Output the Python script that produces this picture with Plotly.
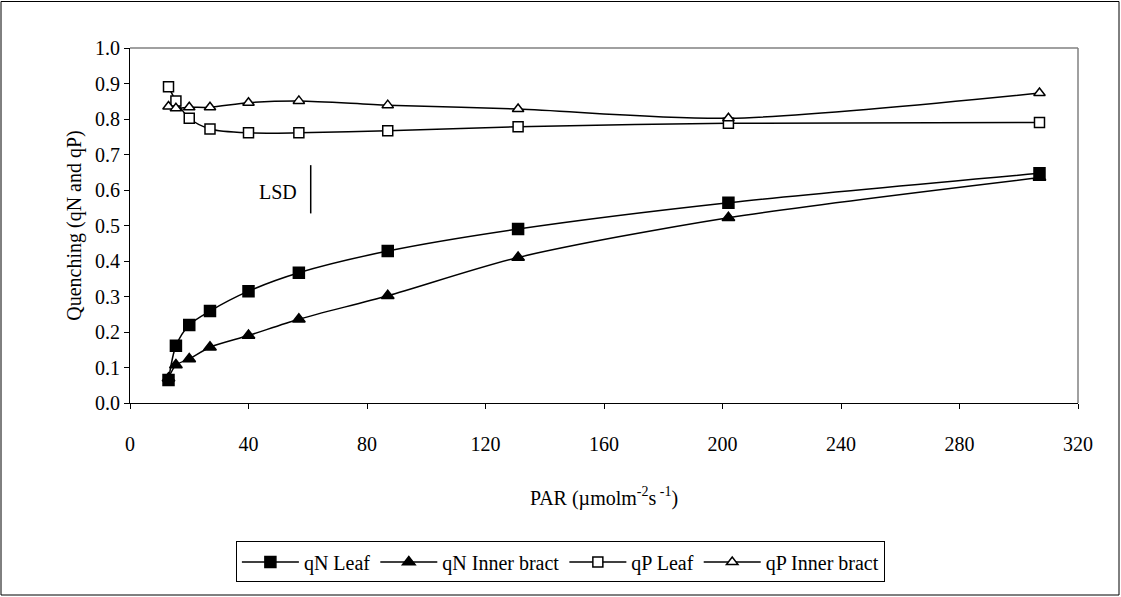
import plotly.graph_objects as go

par = [13, 15.5, 20, 27, 40, 57, 87, 131, 202, 307]
qn_leaf = [0.065, 0.161, 0.220, 0.259, 0.315, 0.367, 0.428, 0.490, 0.564, 0.647]
qn_bract = [0.070, 0.107, 0.124, 0.157, 0.190, 0.236, 0.302, 0.410, 0.522, 0.635]
qp_leaf = [0.891, 0.851, 0.802, 0.772, 0.761, 0.761, 0.767, 0.778, 0.788, 0.790]
qp_bract = [0.835, 0.830, 0.833, 0.833, 0.846, 0.851, 0.839, 0.828, 0.802, 0.873]

x_ticks = [0, 40, 80, 120, 160, 200, 240, 280, 320]
y_ticks = [0.0, 0.1, 0.2, 0.3, 0.4, 0.5, 0.6, 0.7, 0.8, 0.9, 1.0]

lsd_x = 61
lsd_y0 = 0.534
lsd_y1 = 0.670
lsd_label_y = 0.595

FONT = "Liberation Serif"
FS = 20

series = [
    ("qN Leaf", qn_leaf, "square", "black", 11),
    ("qN Inner bract", qn_bract, "triangle-up", "black", 11),
    ("qP Leaf", qp_leaf, "square", "white", 10),
    ("qP Inner bract", qp_bract, "triangle-up", "white", 10),
]

fig = go.Figure()
for name, ys, sym, fill, size in series:
    fig.add_trace(go.Scatter(
        x=par, y=ys, name=name, mode="lines+markers",
        line=dict(color="black", width=1.5, shape="spline", smoothing=0.8),
        marker=dict(symbol=sym, size=size, color=fill,
                    line=dict(color="black", width=1.5)),
    ))

fig.add_shape(type="line", xref="x", yref="y", x0=lsd_x, x1=lsd_x,
              y0=lsd_y0, y1=lsd_y1, line=dict(color="black", width=1.5))
fig.add_annotation(x=lsd_x - 4, y=lsd_label_y, xref="x", yref="y", text="LSD",
                   showarrow=False, xanchor="right", yanchor="middle",
                   font=dict(family=FONT, size=FS, color="black"))

# outer frame
fig.add_shape(type="rect", xref="paper", yref="paper",
              x0=-129 / 948, x1=(1119 - 130) / 948,
              y0=(403 - 595) / 355, y1=(403 - 1.5) / 355,
              line=dict(color="black", width=1), layer="below")
# gray top/right plot border
fig.add_shape(type="line", xref="paper", yref="paper", x0=0, x1=1, y0=1, y1=1,
              line=dict(color="#808080", width=1.5))
fig.add_shape(type="line", xref="paper", yref="paper", x0=1, x1=1, y0=0, y1=1,
              line=dict(color="#808080", width=1.5))

fig.update_layout(
    width=1121, height=597,
    margin=dict(l=130, r=43, t=48, b=194),
    paper_bgcolor="white", plot_bgcolor="white",
    font=dict(family=FONT, size=FS, color="black"),
    showlegend=True,
    legend=dict(orientation="h", x=0.454, xanchor="center", y=-0.39, yanchor="top",
                bordercolor="black", borderwidth=1, bgcolor="white",
                font=dict(family=FONT, size=FS), itemwidth=57,
                tracegroupgap=0),
)
fig.update_xaxes(range=[0, 320], tickvals=x_ticks, ticktext=[str(v) for v in x_ticks],
                 showgrid=False, zeroline=False, showline=True, linecolor="black",
                 linewidth=1, ticks="outside", ticklen=5, tickcolor="black",
                 ticklabelstandoff=18,
                 tickfont=dict(family=FONT, size=FS),
                 title=dict(text="PAR (µmolm<sup>-2</sup>s<sup> -1</sup>)", standoff=36,
                            font=dict(family=FONT, size=FS)))
fig.update_yaxes(range=[0, 1.0], tickvals=y_ticks, ticktext=[f"{v:.1f}" for v in y_ticks],
                 showgrid=False, zeroline=False, showline=True, linecolor="black",
                 linewidth=1, ticks="outside", ticklen=5, tickcolor="black",
                 tickfont=dict(family=FONT, size=FS),
                 title=dict(text="Quenching (qN and qP)", standoff=8,
                            font=dict(family=FONT, size=FS)))

fig.write_html("out.html")
